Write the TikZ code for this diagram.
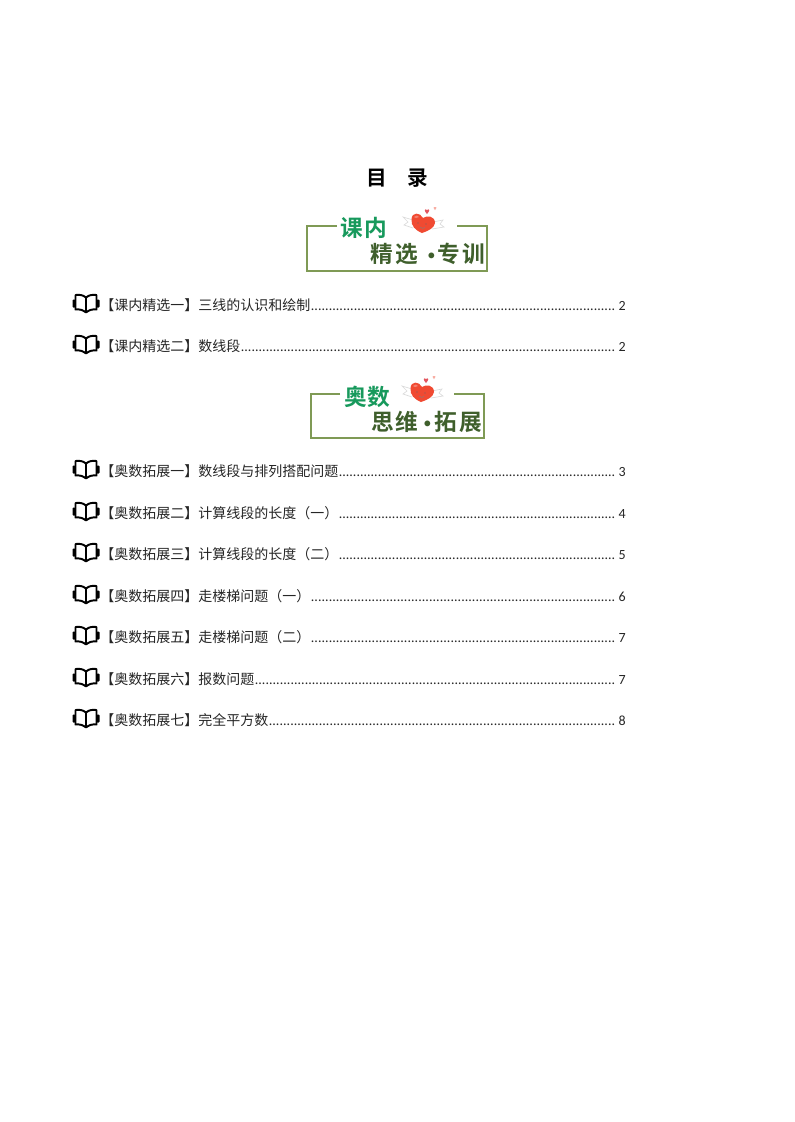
\documentclass[tikz,border=0pt]{standalone}
\usepackage{fontspec}
\setmainfont{Carlito}
\newfontfamily\cjk{Noto Sans CJK SC}
\newfontfamily\cjkb[BoldFont={Noto Sans CJK SC Bold}]{Noto Sans CJK SC}
\usetikzlibrary{calc}
\definecolor{framegreen}{HTML}{7F9A55}
\definecolor{headgreen}{HTML}{17995C}
\definecolor{subgreen}{HTML}{3F5F2C}
\definecolor{heartred}{HTML}{F04A32}
\tikzset{
  x=0.75pt,y=-0.75pt,
  rowtext/.style={anchor=base west,inner sep=0pt,font=\cjk\fontsize{10.5pt}{12pt}\selectfont,text=black!85},
  pagenum/.style={anchor=base east,inner sep=0pt,font=\fontsize{10.5pt}{12pt}\selectfont,text=black!85},
  leaderdots/.style={anchor=base west,inner sep=0pt,font=\fontsize{10.5pt}{12pt}\selectfont,text=black!85},
  frameline/.style={draw=framegreen,line width=1.6pt},
  headtext/.style={anchor=center,inner sep=0pt,text=headgreen,font=\cjkb\bfseries\fontsize{17pt}{18pt}\selectfont},
  subtext/.style={anchor=center,inner sep=0pt,text=subgreen,font=\cjkb\bfseries\fontsize{17pt}{18pt}\selectfont},
  titletext/.style={anchor=center,inner sep=0pt,text=black,font=\cjkb\bfseries\fontsize{15.5pt}{16pt}\selectfont},
  bookline/.style={draw=black,line width=1.45pt,line join=round},
  pics/bookicon/.style={code={
    \draw[bookline] (0,-6) .. controls (-3,-8.5) and (-6,-9) .. (-10.5,-8.5) -- (-10.5,6) .. controls (-6,5.5) and (-3,6.5) .. (0,9);
    \draw[bookline] (0,-6) .. controls (3,-8.5) and (6,-9) .. (10.5,-8.5) -- (10.5,6) .. controls (6,5.5) and (3,6.5) .. (0,9);
    \draw[bookline] (0,-6) -- (0,9);
    \fill[black,rounded corners=0.7pt] (-13.5,-4) rectangle (-10.5,4);
    \fill[black,rounded corners=0.7pt] (13.5,-4) rectangle (10.5,4);
  }},
  pics/heartmark/.style={code={
    \draw[black!14,line width=0.5pt,fill=white] (-10,-3) -- (-20,-6) -- (-15,-1) -- (-19,2) -- (-10,5);
    \draw[black!14,line width=0.5pt,fill=white] (10,-1) -- (20,-3) -- (17,1) -- (21,4) -- (9,6);
    \fill[heartred] (-1,10) .. controls (-8,7) and (-12,3) .. (-11.5,-4)
      .. controls (-11,-11) and (-3,-11) .. (0,-5)
      .. controls (4,-8) and (12,-7) .. (12,0)
      .. controls (11.5,5) and (5,8) .. (-1,10) -- cycle;
    \fill[white,opacity=.3] (-9,-6) .. controls (-7,-8) and (-5,-8) .. (-4,-6) .. controls (-6,-5) and (-8,-4) .. (-9,-6) -- cycle;
    \fill[black!60] (-5,0) circle (.6) (3,1) circle (.6);
    \draw[black!50,line width=.3pt] (-3,4) .. controls (-1,6) and (1,6) .. (2,4);
    \fill[heartred!60!purple!80] (4,-9) .. controls (1,-12) and (1,-15) .. (4,-13) .. controls (7,-15) and (7,-12) .. (4,-9) -- cycle;
    \fill[heartred!45] (12,-13) .. controls (10,-15) and (10,-17) .. (12,-16) .. controls (14,-17) and (14,-15) .. (12,-13) -- cycle;
  }}
}
\newcommand{\tocrow}[5]{%
  \pic at (86,#2-1.5) {bookicon};
  \node[rowtext] (#1t) at (100,#2+5) {#3};
  \node[pagenum] (#1p) at (626,#2+5) {#4};
  \coordinate (#1e) at (615.5,#2+5);
  \path let \p1=($(#1e)-(#1t.base east)$) in
    node[leaderdots] (#1d) at (#1t.base east) {\hbox to \x1{\xleaders\hbox to 2.66pt{\hss.\hss}\hfill}};
}
\begin{document}
\begin{tikzpicture}
\useasboundingbox[fill=white] (0,0) rectangle (794,1122);
\node[titletext] (mu) at (376.5,178) {目};
\node[titletext] (lu) at (418,178) {录};

% banner one
\coordinate (a1) at (337,226); \coordinate (a2) at (307,226); \coordinate (a3) at (307,271);
\coordinate (a4) at (487,271); \coordinate (a5) at (487,226); \coordinate (a6) at (457,226);
\draw[frameline] (a1) -- (a2) -- (a3) -- (a4) -- (a5) -- (a6);
\pic at (423,223) {heartmark};
\node[headtext] (b1a) at (351.5,228) {课};
\node[headtext] (b1b) at (376,228) {内};
\node[subtext] (b1c) at (382,254) {精};
\node[subtext] (b1d) at (407,254) {选};
\node[subtext] (b1e) at (432,259) {·};
\node[subtext] (b1f) at (449,254) {专};
\node[subtext] (b1g) at (474,254) {训};

\tocrow{r1}{305}{【课内精选一】三线的认识和绘制}{2}{}
\tocrow{r2}{346}{【课内精选二】数线段}{2}{}

% banner two
\coordinate (c1) at (340,394); \coordinate (c2) at (311,394); \coordinate (c3) at (311,438);
\coordinate (c4) at (484,438); \coordinate (c5) at (484,394); \coordinate (c6) at (454,394);
\draw[frameline] (c1) -- (c2) -- (c3) -- (c4) -- (c5) -- (c6);
\pic at (422,392) {heartmark};
\node[headtext] (d1a) at (356,397) {奥};
\node[headtext] (d1b) at (379,397) {数};
\node[subtext] (d1c) at (383,422) {思};
\node[subtext] (d1d) at (407,422) {维};
\node[subtext] (d1e) at (428,427) {·};
\node[subtext] (d1f) at (446,422) {拓};
\node[subtext] (d1g) at (471,422) {展};

\tocrow{r3}{471}{【奥数拓展一】数线段与排列搭配问题}{3}{}
\tocrow{r4}{513}{【奥数拓展二】计算线段的长度（一）}{4}{}
\tocrow{r5}{554}{【奥数拓展三】计算线段的长度（二）}{5}{}
\tocrow{r6}{596}{【奥数拓展四】走楼梯问题（一）}{6}{}
\tocrow{r7}{637}{【奥数拓展五】走楼梯问题（二）}{7}{}
\tocrow{r8}{679}{【奥数拓展六】报数问题}{7}{}
\tocrow{r9}{720}{【奥数拓展七】完全平方数}{8}{}
\end{tikzpicture}
\end{document}
